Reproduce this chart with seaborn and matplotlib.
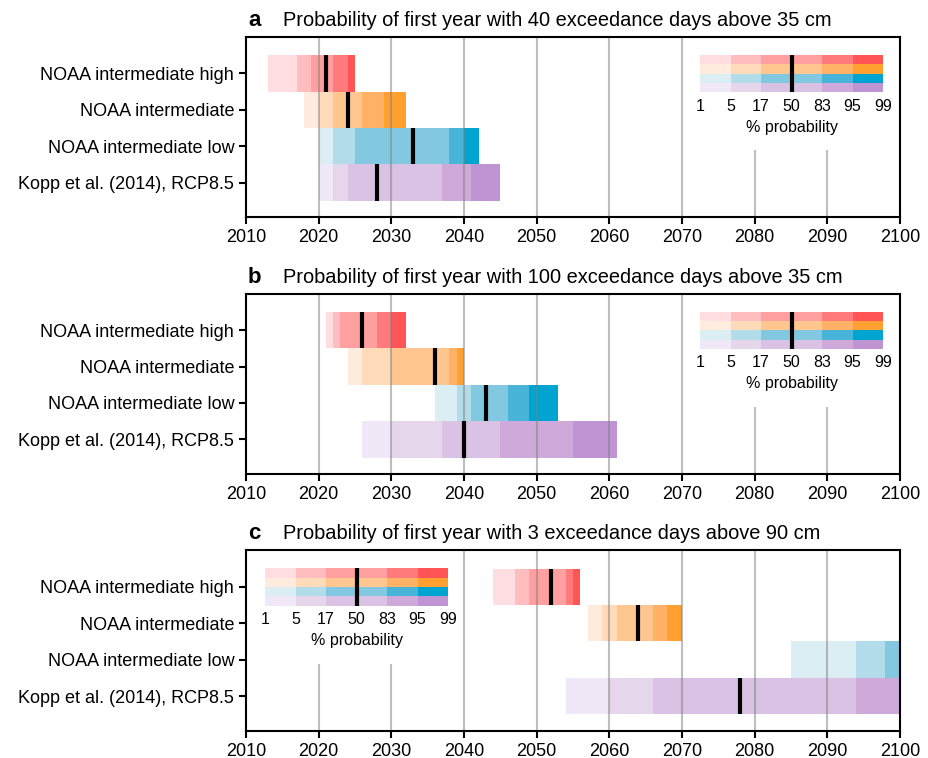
import matplotlib
matplotlib.use("Agg")
import matplotlib.pyplot as plt
import seaborn as sns

# scenarios, top to bottom
scenarios = ["NOAA intermediate high", "NOAA intermediate",
             "NOAA intermediate low", "Kopp et al. (2014), RCP8.5"]
percentiles = ["1", "5", "17", "50", "83", "95", "99"]

# year at the 1, 5, 17, 50, 83, 95, 99 % probability levels
a_high = [2013, 2017, 2019, 2021, 2022, 2024, 2025]
a_int = [2018, 2020, 2022, 2024, 2026, 2029, 2032]
a_low = [2020, 2022, 2025, 2033, 2038, 2040, 2042]
a_kopp = [2020, 2022, 2024, 2028, 2037, 2041, 2045]

b_high = [2021, 2022, 2023, 2026, 2028, 2030, 2032]
b_int = [2024, 2026, 2030, 2036, 2038, 2039, 2040]
b_low = [2036, 2039, 2041, 2043, 2046, 2049, 2053]
b_kopp = [2026, 2030, 2037, 2040, 2045, 2055, 2061]

c_high = [2044, 2047, 2049, 2052, 2054, 2055, 2056]
c_int = [2057, 2059, 2061, 2064, 2066, 2068, 2070]
c_low = [2085, 2094, 2098, 2105, 2110, 2115, 2120]
c_kopp = [2054, 2060, 2066, 2078, 2094, 2105, 2110]

titles = ["Probability of first year with 40 exceedance days above 35 cm",
          "Probability of first year with 100 exceedance days above 35 cm",
          "Probability of first year with 3 exceedance days above 90 cm"]
letters = ["a", "b", "c"]
panel_data = [[a_high, a_int, a_low, a_kopp],
              [b_high, b_int, b_low, b_kopp],
              [c_high, c_int, c_low, c_kopp]]

# segment colours per scenario (1-5, 5-17, 17-50, 50-83, 83-95, 95-99)
colors = [
    ["#FFDDE0", "#FFBDBF", "#FF9F9F", "#FF9F9F", "#FF7B7B", "#FF5555"],
    ["#FFECDE", "#FFDBBA", "#FFC690", "#FFC690", "#FFB266", "#FFA030"],
    ["#DAEEF4", "#B2DCEA", "#83C8E1", "#83C8E1", "#48B5D8", "#00A4D0"],
    ["#F0E8F6", "#E5D6EC", "#D9C2E3", "#D9C2E3", "#CFA9DA", "#BF94D3"],
]

sns.set_style("ticks")
plt.rcParams["font.family"] = ["Liberation Sans", "DejaVu Sans"]
plt.rcParams["text.color"] = "black"
plt.rcParams["xtick.color"] = "black"
plt.rcParams["ytick.color"] = "black"
plt.rcParams["axes.labelcolor"] = "black"


def draw_key(ax, x0):
    # white box with the colour key, drawn under the axes spines
    key = ax.inset_axes([x0, 0.372, 0.3165, 0.628])
    key.set_zorder(4)
    key.set_facecolor("white")
    for s in key.spines.values():
        s.set_visible(False)
    key.set_xticks([])
    key.set_yticks([])
    for r, row in enumerate(colors):
        for c, col in enumerate(row):
            key.barh(r + 0.5, 1, left=c, height=1, color=col, linewidth=0)
    key.vlines(3, 0, 4, color="black", lw=3)
    for i, p in enumerate(percentiles):
        key.text(i, 5.5, p, ha="center", va="center", fontsize=11.5)
    key.text(3, 7.8, "% probability", ha="center", va="center", fontsize=11.5)
    key.set_xlim(-0.328, 6.459)
    key.set_ylim(10.27, -1.946)


fig = plt.figure(figsize=(9.29, 7.58), dpi=100)
bottoms = [0.7133, 0.3747, 0.036]

for k in range(3):
    ax = fig.add_axes([0.2648, bottoms[k], 0.704, 0.2379])
    for i, vals in enumerate(panel_data[k]):
        for j in range(6):
            ax.barh(i, vals[j + 1] - vals[j], left=vals[j], height=1.0,
                    color=colors[i][j], linewidth=0, zorder=1)
    for yr in range(2020, 2100, 10):
        ax.axvline(yr, color="#7f7f7f", alpha=0.5, lw=1.5, zorder=2)
    for i, vals in enumerate(panel_data[k]):
        ax.vlines(vals[3], i - 0.5, i + 0.5, color="black", lw=3, zorder=3)

    ax.set_xlim(2010, 2100)
    ax.set_ylim(3.95, -1.0)
    ax.set_xticks(range(2010, 2101, 10))
    ax.set_yticks(range(4))
    ax.set_yticklabels(scenarios)
    ax.tick_params(labelsize=13, width=1.5, length=5, color="black")
    for s in ax.spines.values():
        s.set_linewidth(1.5)
        s.set_color("black")
        s.set_zorder(5)

    ax.text(0.003, 1.061, letters[k], transform=ax.transAxes,
            fontsize=16, fontweight="bold", va="baseline", ha="left")
    ax.text(0.0566, 1.061, titles[k], transform=ax.transAxes,
            fontsize=14.4, va="baseline", ha="left")

    draw_key(ax, 0.0138 if k == 2 else 0.679)

fig.savefig("out.png", dpi=100)
